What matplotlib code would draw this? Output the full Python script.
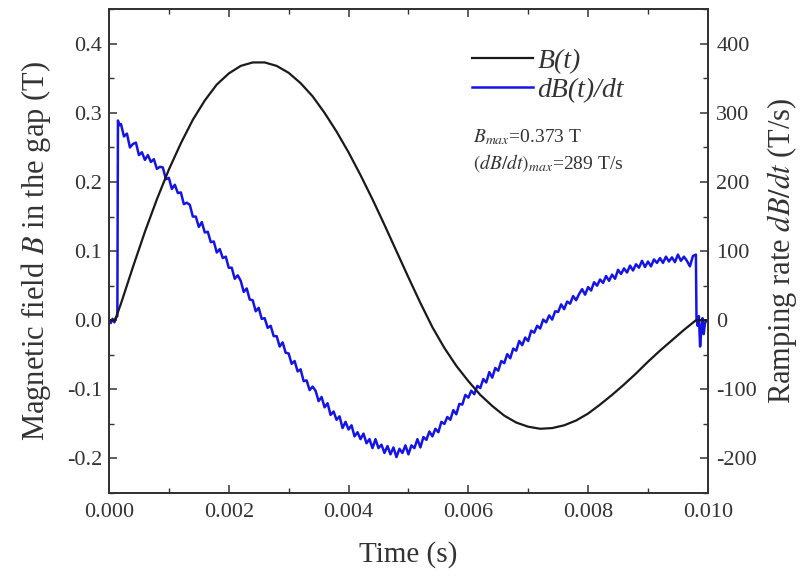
import numpy as np
import matplotlib
matplotlib.use('Agg')
import matplotlib.pyplot as plt
from matplotlib.ticker import MultipleLocator, FormatStrFormatter

plt.rcParams['font.family'] = ['Liberation Serif', 'DejaVu Serif']
plt.rcParams['mathtext.fontset'] = 'stix'
plt.rcParams['axes.unicode_minus'] = False

# B(t) in T, time in ms
b_time = [0.0, 0.1, 0.2, 0.4, 0.6, 0.8, 1.0, 1.2, 1.4, 1.6, 1.8, 2.0, 2.2, 2.4, 2.6,
          2.8, 3.0, 3.2, 3.4, 3.6, 3.8, 4.0, 4.2, 4.4, 4.6, 4.8, 5.0, 5.2, 5.4,
          5.6, 5.8, 6.0, 6.2, 6.4, 6.6, 6.8, 7.0, 7.2, 7.4, 7.6, 7.8, 8.0, 8.2,
          8.4, 8.6, 8.8, 9.0, 9.2, 9.4, 9.6, 9.8, 9.9, 10.0]
b_field = [0.0, 0.0, 0.024, 0.077, 0.128, 0.175, 0.218, 0.256, 0.290, 0.318, 0.341,
           0.357, 0.368, 0.373, 0.373, 0.368, 0.358, 0.343, 0.324, 0.300, 0.273,
           0.243, 0.210, 0.175, 0.138, 0.100, 0.062, 0.025, -0.010, -0.040,
           -0.066, -0.088, -0.108, -0.124, -0.138, -0.148, -0.154, -0.157, -0.156,
           -0.152, -0.145, -0.135, -0.122, -0.108, -0.093, -0.077, -0.060,
           -0.044, -0.029, -0.014, 0.0, 0.0, 0.0]

# dB/dt in T/s: start of the pulse
rate_head_t = [0.0, 0.03, 0.06, 0.09, 0.12, 0.14, 0.15, 0.17]
rate_head = [0, -4, 2, -3, 4, 6, 289, 282]

# dB/dt body, sampled every 0.05 ms from 0.20 ms
rate_body = [
    284, 266, 270, 250, 255, 257, 239, 243, 232, 239,
    229, 233, 219, 222, 221, 204, 206, 190, 196, 184,
    185, 168, 170, 167, 150, 150, 135, 142, 127, 128,
    113, 114, 98, 103, 90, 92, 76, 76, 60, 65,
    57, 41, 46, 30, 29, 13, 18, 2, 3, -11,
    -8, -23, -23, -38, -32, -47, -48, -63, -59, -74,
    -71, -88, -87, -101, -96, -102, -117, -111, -126, -120,
    -137, -132, -144, -139, -156, -147, -158, -152, -168, -162,
    -172, -164, -178, -172, -185, -172, -185, -180, -192, -182,
    -194, -184, -198, -186, -192, -181, -194, -181, -185, -172,
    -184, -169, -173, -161, -168, -157, -162, -147, -150, -140,
    -144, -130, -136, -121, -122, -108, -112, -102, -107, -95,
    -98, -85, -90, -75, -83, -69, -73, -59, -62, -49,
    -55, -41, -44, -30, -36, -25, -30, -15, -18, -8,
    -12, 1, -3, 7, 1, 13, 12, 23, 16, 27,
    24, 35, 29, 38, 45, 37, 48, 43, 55, 50,
    59, 54, 64, 57, 66, 60, 73, 67, 75, 69,
    79, 72, 81, 76, 86, 77, 85, 78, 88, 83,
    90, 83, 92, 85, 91, 84, 95, 86, 92, 86,
    78, 93,
]

# end of the pulse
rate_tail_t = [9.80, 9.81, 9.83, 9.85, 9.87, 9.89, 9.91, 9.93, 9.95, 9.97, 10.0]
rate_tail = [95, 2, -8, 6, -38, -15, 3, -20, -5, 0, -2]

body_t = 0.20 + 0.05 * np.arange(len(rate_body))
rate_t = np.concatenate([rate_head_t, body_t, rate_tail_t]) / 1000.0
rate = np.concatenate([rate_head, rate_body, rate_tail])
b_t = np.array(b_time) / 1000.0

fig = plt.figure(figsize=(8.09, 5.76), dpi=100)
ax = fig.add_axes([0.1347, 0.144, 0.7403, 0.840])
ax2 = ax.twinx()

l1, = ax.plot(b_t, b_field, color='#1a1a1a', lw=1.6, label='B(t)')
l2, = ax2.plot(rate_t, rate, color='#1414e6', lw=1.8, label='dB(t)/dt')
ax.set_zorder(ax2.get_zorder() + 1)
ax.patch.set_visible(False)

ax.set_xlim(0, 0.010)
ax.set_ylim(-0.25, 0.45)
ax2.set_ylim(-250, 450)

ax.xaxis.set_major_locator(MultipleLocator(0.002))
ax.xaxis.set_minor_locator(MultipleLocator(0.001))
ax.xaxis.set_major_formatter(FormatStrFormatter('%.3f'))
ax.yaxis.set_major_locator(MultipleLocator(0.1))
ax.yaxis.set_minor_locator(MultipleLocator(0.05))
ax.yaxis.set_major_formatter(FormatStrFormatter('%.1f'))
ax2.yaxis.set_major_locator(MultipleLocator(100))
ax2.yaxis.set_minor_locator(MultipleLocator(50))

ax.tick_params(which='both', direction='in', top=True, labelsize=16, colors='#333333')
ax.tick_params(which='major', length=6, width=1.1)
ax.tick_params(which='minor', length=3.5, width=1.0)
ax.tick_params(axis='x', which='major', pad=7)
ax.tick_params(axis='y', which='major', pad=5)
ax2.tick_params(which='both', direction='in', labelsize=16, colors='#333333')
ax2.tick_params(which='major', length=6, width=1.1, pad=6)
ax2.tick_params(which='minor', length=3.5, width=1.0)
for a in (ax, ax2):
    for s in a.spines.values():
        s.set_linewidth(1.3)
        s.set_color('#333333')

ax.set_xlabel('Time (s)', fontsize=21, color='#333333', labelpad=14)
ax.set_ylabel('Magnetic field $B$ in the gap (T)', fontsize=22, color='#333333', labelpad=10)
ax2.set_ylabel('Ramping rate $dB/dt$ (T/s)', fontsize=22, color='#333333', labelpad=6)

ax.legend(handles=[l1, l2], loc='upper left', bbox_to_anchor=(0.565, 0.97),
          frameon=False, prop={'style': 'italic', 'size': 20}, handlelength=2.2,
          handletextpad=0.15, labelspacing=0.12, labelcolor='#333333')

ax.text(0.608, 0.7355, '$B_{max}$=0.373 T', transform=ax.transAxes,
        fontsize=14, color='#333333', va='center')
ax.text(0.608, 0.682, '$(dB/dt)_{max}$=289 T/s', transform=ax.transAxes,
        fontsize=14, color='#333333', va='center')

fig.savefig('out.png', dpi=100)
